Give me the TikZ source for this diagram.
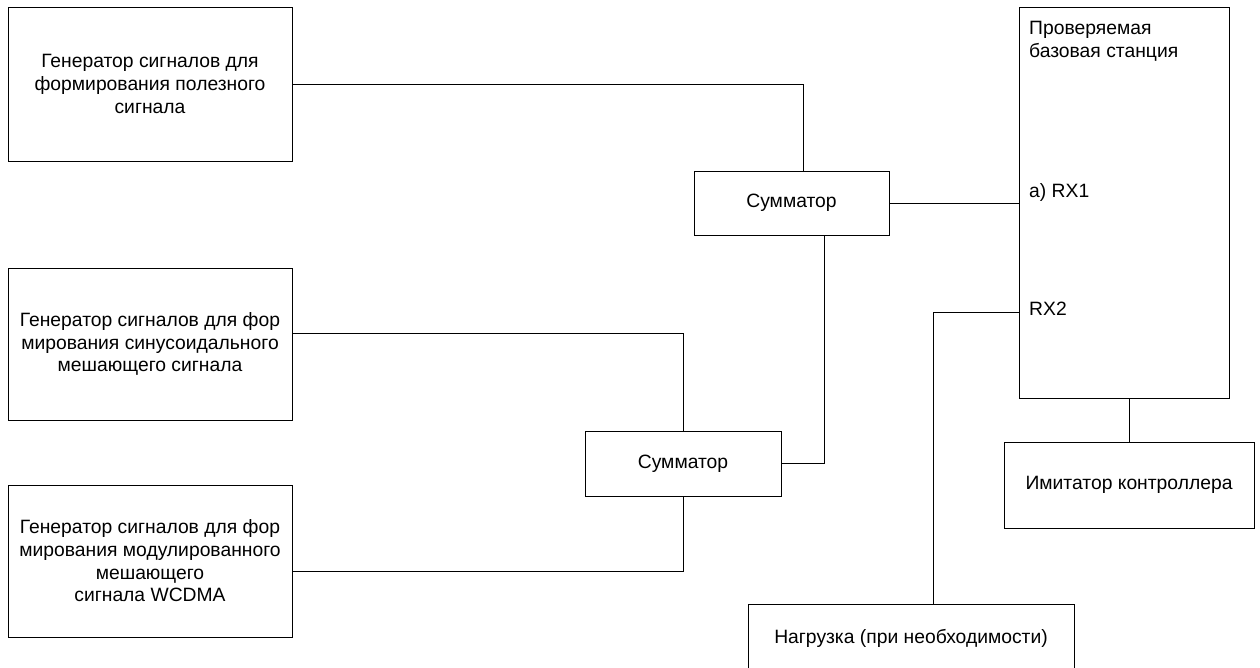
\documentclass[tikz,border=0pt]{standalone}
\usepackage{fontspec}
\setmainfont{Liberation Sans}
\begin{document}
\begin{tikzpicture}[x=1pt,y=-1pt,
  blk/.style={draw,line width=0.8pt,inner sep=0pt,align=center,font=\fontsize{19.3}{22.7}\selectfont},
  lbl/.style={inner sep=0pt,anchor=west,align=left,font=\fontsize{19.3}{22.7}\selectfont},
  wire/.style={line width=0.8pt}]
\useasboundingbox (0,0) rectangle (1260,668);
\node[blk,minimum width=284pt,minimum height=154pt] (g1) at (150,84) {Генератор сигналов для\\формирования полезного\\сигнала};
\node[blk,minimum width=284pt,minimum height=152pt] (g2) at (150,344) {Генератор сигналов для фор\\мирования синусоидального\\мешающего сигнала};
\node[blk,minimum width=284pt,minimum height=152pt] (g3) at (150,561) {Генератор сигналов для фор\\мирования модулированного\\мешающего\\сигнала WCDMA};
\node[blk,minimum width=195pt,minimum height=64pt] (s1) at (791.5,203) {Сумматор};
\node[blk,minimum width=196pt,minimum height=65pt] (s2) at (683,463.5) {Сумматор};
\node[blk,minimum width=210pt,minimum height=391pt] (bs) at (1124,202.5) {};
\node[lbl] (bst) at (1029,41) {Проверяемая\\базовая станция};
\node[lbl] (rx1) at (1029,193) {a) RX1};
\node[lbl] (rx2) at (1029,309) {RX2};
\node[blk,minimum width=250pt,minimum height=86pt] (im) at (1129,485) {Имитатор контроллера};
\node[blk,minimum width=326pt,minimum height=68pt] (ld) at (911,638) {Нагрузка (при необходимости)};
\coordinate (c1) at (803,84);
\coordinate (c2) at (683,333);
\coordinate (c3) at (683,571);
\coordinate (c4) at (824,463);
\coordinate (c5) at (933,312);
\coordinate (c6) at (1129,398);
\draw[wire] (g1.east |- c1) -- (c1) -- (c1 |- s1.north);
\draw[wire] (s1.east) -- (s1.east -| bs.west);
\draw[wire] (g2.east |- c2) -- (c2) -- (c2 |- s2.north);
\draw[wire] (g3.east |- c3) -- (c3) -- (c3 |- s2.south);
\draw[wire] (c4 |- s1.south) -- (c4) -- (c4 -| s2.east);
\draw[wire] (c5 -| bs.west) -- (c5) -- (c5 |- ld.north);
\draw[wire] (c6 |- bs.south) -- (c6 |- im.north);
\end{tikzpicture}
\end{document}
